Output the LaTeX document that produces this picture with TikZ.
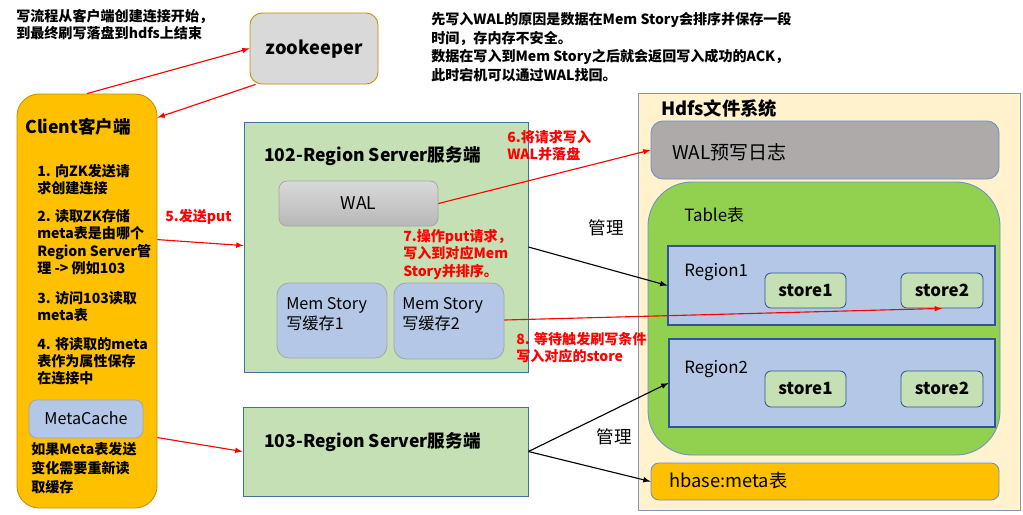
\documentclass[tikz,border=0pt]{standalone}
\usepackage{fontspec}
\setmainfont{Noto Sans CJK SC}
\usepackage{xcolor}
\usetikzlibrary{arrows.meta,positioning,fit,calc}
\tikzset{>=latex}

\definecolor{gold}{HTML}{FFC000}
\definecolor{golddark}{HTML}{BF9000}
\definecolor{zkgray}{HTML}{D9D9D9}
\definecolor{srvgreen}{HTML}{C5E0B4}
\definecolor{srvline}{HTML}{41719C}
\definecolor{memblue}{HTML}{B4C7E7}
\definecolor{memline}{HTML}{A6A6A6}
\definecolor{hdfsbg}{HTML}{FFF2CC}
\definecolor{hdfsline}{HTML}{8497B0}
\definecolor{walgray}{HTML}{AEAAAA}
\definecolor{softline}{HTML}{6D8EC9}
\definecolor{tablegreen}{HTML}{92D050}
\definecolor{regionline}{HTML}{2F5597}

\tikzset{
    boxbase/.style={draw, inner sep=0pt, line width=0.6pt},
    boxlabel/.style={inner sep=0pt, anchor=center, text height=8.4pt, text depth=0pt},
    redarrow/.style={->, red, line width=0.8pt},
    blackarrow/.style={->, black, line width=0.8pt},
    redlabel/.style={text=red, font=\fontsize{10}{12.3}\selectfont\bfseries, align=left, inner sep=0pt},
    plaintext/.style={font=\fontsize{10}{12.3}\selectfont\bfseries, align=left, inner sep=0pt},
}

\begin{document}
\begin{tikzpicture}[x=0.025cm, y=-0.025cm]
    \useasboundingbox (0,0) rectangle (1023,514);

    % notes on top
    \node[plaintext, anchor=north west] (notewrite) at (16,9)
        {写流程从客户端创建连接开始，\\到最终刷写落盘到hdfs上结束};
    \node[plaintext, anchor=north west, font=\fontsize{10}{13.2}\selectfont\bfseries] (notewal) at (431,12)
        {先写入WAL的原因是数据在Mem Story会排序并保存一段\\时间，存内存不安全。\\数据在写入到Mem Story之后就会返回写入成功的ACK，\\此时宕机可以通过WAL找回。};

    % zookeeper
    \node[boxbase, draw=golddark, fill=zkgray, rounded corners=0.3cm, fit={(250,13)(378,84)}] (zk) {};
    \node[boxlabel, font=\fontsize{13}{15}\selectfont\bfseries] (zktext) at (zk.center) {zookeeper};

    % client
    \node[boxbase, draw=golddark, fill=gold, rounded corners=0.55cm,
        fit={(17,94)(157,508)}] (client) {};
    \node[plaintext, anchor=west, font=\fontsize{12.5}{15}\selectfont\bfseries] (clienttitle) at (25,127) {Client客户端};
    \node[plaintext, anchor=north west] (step1) at (37,164) {1. 向ZK发送请\\求创建连接};
    \node[plaintext, anchor=north west] (step2) at (37,209) {2. 读取ZK存储\\meta表是由哪个\\Region Server管\\理 -> 例如103};
    \node[plaintext, anchor=north west] (step3) at (37,291) {3. 访问103读取\\meta表};
    \node[plaintext, anchor=north west] (step4) at (37,337) {4. 将读取的meta\\表作为属性保存\\在连接中};
    \node[boxbase, draw=memline, fill=memblue, rounded corners=0.2cm, fit={(29,400)(143,438)}] (metacache) {};
    \node[boxlabel, font=\fontsize{11.5}{14}\selectfont] (metacachetext) at (metacache.center) {MetaCache};
    \node[plaintext, anchor=north west, font=\fontsize{10}{13.5}\selectfont\bfseries] (step5) at (31,442) {如果Meta表发送\\变化需要重新读\\取缓存};

    % 102 region server
    \node[boxbase, draw=srvline, fill=srvgreen, fit={(244,122)(528,372)}] (rs102) {};
    \node[plaintext, anchor=west, font=\fontsize{12.5}{15}\selectfont\bfseries] (rs102title) at (264,156) {102-Region Server服务端};
    \node[boxbase, draw=memline, top color=zkgray, bottom color=memline!80, rounded corners=0.2cm,
        fit={(279,181)(438,226)}] (wal) {};
    \node[boxlabel, font=\fontsize{12.5}{15}\selectfont] (waltext) at (wal.center) {WAL};
    \node[boxbase, draw=memline, fill=memblue, rounded corners=0.3cm, fit={(277,283)(387,358)}] (mem1) {};
    \node[plaintext, anchor=north west, font=\fontsize{11.5}{14}\selectfont] (mem1text) at (286,297) {Mem Story\\写缓存1};
    \node[boxbase, draw=memline, fill=memblue, rounded corners=0.3cm, fit={(394,283)(504,359)}] (mem2) {};
    \node[plaintext, anchor=north west, font=\fontsize{11.5}{14}\selectfont] (mem2text) at (402,297) {Mem Story\\写缓存2};

    % 103 region server
    \node[boxbase, draw=srvline, fill=srvgreen, fit={(243,407)(528,496)}] (rs103) {};
    \node[plaintext, anchor=west, font=\fontsize{12.5}{15}\selectfont\bfseries] (rs103title) at (264,442) {103-Region Server服务端};

    % hdfs
    \node[boxbase, draw=hdfsline, fill=hdfsbg, fit={(638,93)(1020,510)}] (hdfs) {};
    \node[plaintext, anchor=west, font=\fontsize{13}{15}\selectfont\bfseries] (hdfstitle) at (661,109) {Hdfs文件系统};
    \node[boxbase, draw=softline, fill=walgray, rounded corners=0.3cm, fit={(651,121)(999,179)}] (walog) {};
    \node[plaintext, anchor=west, font=\fontsize{13.5}{16}\selectfont\mdseries] (walogtext) at (672,152) {WAL预写日志};

    % table
    \node[boxbase, draw=softline, fill=tablegreen, rounded corners=1.1cm, fit={(648,182)(1000,455)}] (table) {};
    \node[plaintext, anchor=west, font=\fontsize{12}{14}\selectfont\mdseries] (tabletitle) at (684,215) {Table表};
    \node[boxbase, draw=regionline, fill=memblue, line width=0.8pt, fit={(668,246)(995,325)}] (region1) {};
    \node[plaintext, anchor=west, font=\fontsize{12}{14}\selectfont\mdseries] (region1text) at (684,272) {Region1};
    \node[boxbase, draw=regionline, fill=srvgreen, rounded corners=0.15cm, fit={(765,273)(846,308)}] (r1store1) {};
    \node[boxlabel, font=\fontsize{12}{14}\selectfont\bfseries] (r1store1text) at (r1store1.center) {store1};
    \node[boxbase, draw=regionline, fill=srvgreen, rounded corners=0.15cm, fit={(901,273)(983,308)}] (r1store2) {};
    \node[boxlabel, font=\fontsize{12}{14}\selectfont\bfseries] (r1store2text) at (r1store2.center) {store2};
    \node[boxbase, draw=regionline, fill=memblue, line width=0.8pt, fit={(669,339)(995,427)}] (region2) {};
    \node[plaintext, anchor=west, font=\fontsize{12}{14}\selectfont\mdseries] (region2text) at (684,369) {Region2};
    \node[boxbase, draw=regionline, fill=srvgreen, rounded corners=0.15cm, fit={(765,371)(846,407)}] (r2store1) {};
    \node[boxlabel, font=\fontsize{12}{14}\selectfont\bfseries] (r2store1text) at (r2store1.center) {store1};
    \node[boxbase, draw=regionline, fill=srvgreen, rounded corners=0.15cm, fit={(901,371)(983,407)}] (r2store2) {};
    \node[boxlabel, font=\fontsize{12}{14}\selectfont\bfseries] (r2store2text) at (r2store2.center) {store2};

    % hbase:meta
    \node[boxbase, draw=softline, fill=gold, rounded corners=0.2cm, fit={(651,463)(999,500)}] (meta) {};
    \node[plaintext, anchor=west, font=\fontsize{13}{15}\selectfont\mdseries] (metatext) at (669,481) {hbase:meta表};

    % red arrows
    \draw[redarrow] (client.north) -- (zk.west);
    \draw[redarrow] ($(zk.south west)+(6,0)$) -- ($(client.north east)+(0,24)$);
    \draw[redarrow] ($(client.north east)+(0,146)$) -- ($(rs102.north west)+(0,124)$);
    \draw[redarrow] ($(client.north east)+(0,344)$) -- (rs103.west);
    \draw[redarrow] (wal.east) -- (walog.west);
    \draw[redarrow] ($(mem2.east)+(0,-1)$) -- (r1store2.south);

    % black arrows
    \draw[blackarrow] (rs102.east) -- (region1.west);
    \draw[blackarrow] (rs103.east) -- (region2.west);
    \draw[blackarrow] (rs103.east) -- (meta.west);

    % labels
    \node[redlabel, anchor=west] (putlabel) at (165,217) {5.发送put};
    \node[redlabel, anchor=north west] (wallabel) at (507,130) {6.将请求写入\\WAL并落盘};
    \node[redlabel, anchor=north west] (sortlabel) at (403,229) {7.操作put请求，\\写入到对应Mem\\Story并排序。};
    \node[redlabel, anchor=north west] (flushlabel) at (516,332) {8. 等待触发刷写条件\\写入对应的store};
    \node[font=\fontsize{12.5}{15}\selectfont, inner sep=0pt] (manage1) at (606,228) {管理};
    \node[font=\fontsize{12.5}{15}\selectfont, inner sep=0pt] (manage2) at (614,437) {管理};
\end{tikzpicture}
\end{document}
